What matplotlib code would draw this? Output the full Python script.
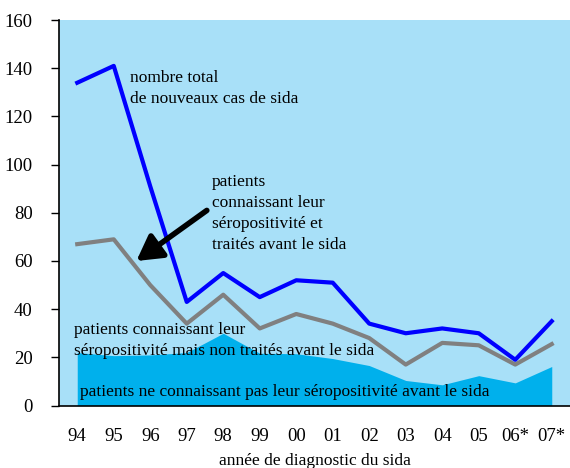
import matplotlib.pyplot as plt

plt.rcParams["font.family"] = ["Liberation Serif", "DejaVu Serif"]

# Years of diagnosis
years = ["94", "95", "96", "97", "98", "99", "00", "01", "02", "03", "04", "05", "06*", "07*"]

# Total number of new AIDS cases
total_cases = [134, 141, 91, 43, 55, 45, 52, 51, 34, 30, 32, 30, 19, 35]
# Patients knowing their HIV status (treated or not)
knowing = [67, 69, 50, 34, 46, 32, 38, 34, 28, 17, 26, 25, 17, 25.5]
# Patients not knowing their HIV status
not_knowing = [22, 20.7, 21, 22, 30, 21.7, 21.5, 19.5, 16.6, 10.4, 8.6, 12.4, 9.4, 16.2]

x = list(range(len(years)))

fig = plt.figure(figsize=(5.7, 4.68), dpi=100)
ax = fig.add_axes([0.1035, 0.1335, 0.8965, 0.8235])
ax.set_facecolor("#A8E0F8")

ax.fill_between(x, 0, not_knowing, color="#00B0EC", linewidth=0, zorder=1)
ax.plot(x, knowing, color="#808080", linewidth=3, zorder=2)
ax.plot(x, total_cases, color="#0000FF", linewidth=3, zorder=3)

ax.annotate(
    "",
    xy=(1.62, 60), xytext=(3.55, 81),
    arrowprops=dict(arrowstyle="-|>,head_length=1.5,head_width=0.85",
                    color="black", lw=4, shrinkA=0, shrinkB=0),
    zorder=4,
)

fs = 12.5
ax.text(1.45, 124, "nombre total\nde nouveaux cas de sida", fontsize=fs,
        va="bottom", ha="left", linespacing=1.4, zorder=5)
ax.text(3.68, 63.5, "patients\nconnaissant leur\nséropositivité et\ntraités avant le sida",
        fontsize=fs, va="bottom", ha="left", linespacing=1.4, zorder=5)
ax.text(-0.1, 19.5, "patients connaissant leur\nséropositivité mais non traités avant le sida",
        fontsize=fs, va="bottom", ha="left", linespacing=1.4, zorder=5)
ax.text(0.08, 2.3, "patients ne connaissant pas leur séropositivité avant le sida",
        fontsize=fs, va="bottom", ha="left", zorder=5)

ax.set_xlim(-0.5, 13.5)
ax.set_ylim(0, 160)
ax.set_yticks(range(0, 161, 20))
ax.set_xticks(x)
ax.set_xticklabels(years)
ax.tick_params(axis="y", length=6, width=1, pad=13, labelsize=13.5)
ax.tick_params(axis="x", length=0, pad=16, labelsize=13.5)
ax.spines["top"].set_visible(False)
ax.spines["right"].set_visible(False)
ax.spines["left"].set_linewidth(1.2)
ax.spines["bottom"].set_linewidth(1.2)
ax.set_xlabel("année de diagnostic du sida", fontsize=12.5, labelpad=6)

fig.savefig("out.png", dpi=100)
